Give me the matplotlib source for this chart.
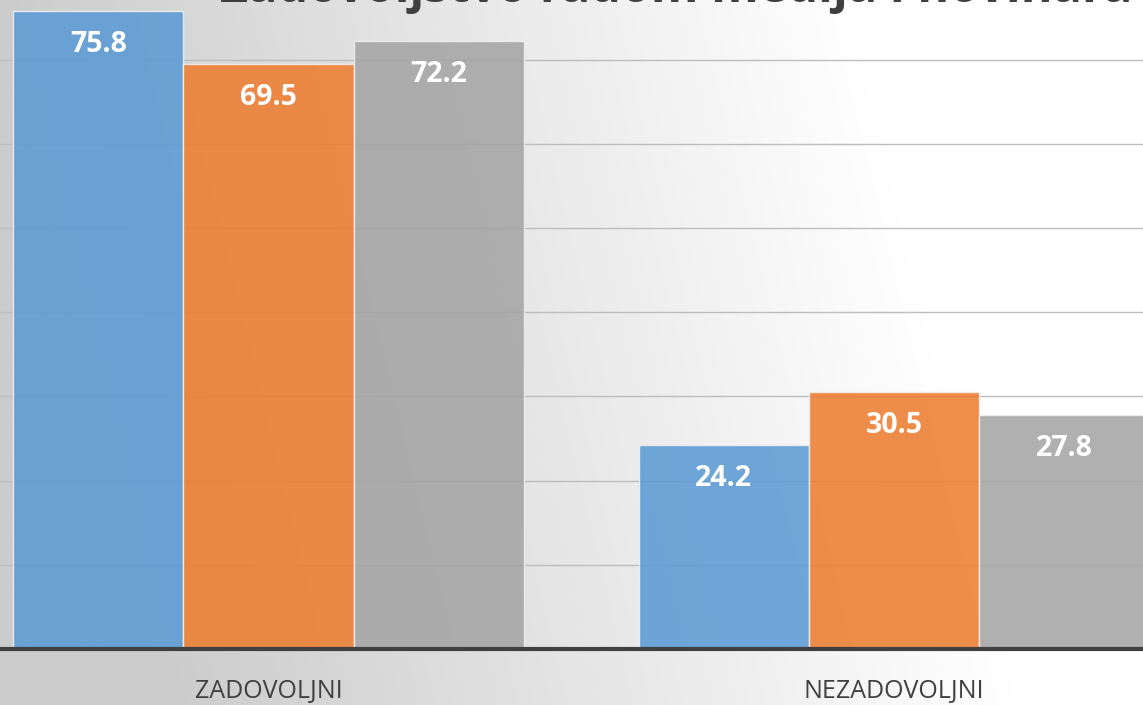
import numpy as np
import matplotlib
matplotlib.use("Agg")
import matplotlib.pyplot as plt

# Data
categories = ["ZADOVOLJNI", "NEZADOVOLJNI"]
series_a = [75.8, 24.2]
series_b = [69.5, 30.5]
series_c = [72.2, 27.8]
title = "Zadovoljstvo radom medija i novinara"

colors = ["#5b9bd5", "#ed7d31", "#a5a5a5"]

plt.rcParams["font.family"] = ["Open Sans", "DejaVu Sans"]

fig = plt.figure(figsize=(11.43, 7.05), dpi=100)

# Grey-to-white background gradient
bg = fig.add_axes([0, 0, 1, 1], zorder=0)
xx, yy = np.meshgrid(np.linspace(0, 1, 400), np.linspace(0, 1, 250))
t = np.clip(xx * 1.35 - 0.2 * yy, 0, 1)
shade = 0.80 + 0.20 * t
bg.imshow(np.dstack([shade] * 3), aspect="auto", origin="upper", extent=[0, 1, 0, 1])
bg.axis("off")

ax = fig.add_axes([0, 56 / 705, 1, 649 / 705], zorder=1)
ax.patch.set_alpha(0)

x = np.arange(len(categories))
w = 0.272
for i, vals in enumerate([series_a, series_b, series_c]):
    bars = ax.bar(x + (i - 1) * w, vals, width=w, color=colors[i], alpha=0.88,
                  edgecolor="#f0f0f0", linewidth=1.0, zorder=2)
    for b, v in zip(bars, vals):
        ax.annotate(f"{v:.1f}", (b.get_x() + b.get_width() / 2, v),
                    xytext=(0, -24), textcoords="offset points",
                    ha="center", va="center", color="white",
                    fontsize=20.5, fontweight="bold", zorder=3)

ax.set_xlim(-0.4293, 1.398)
ax.set_ylim(0, 77.08)
ax.set_yticks(np.arange(10, 80, 10))
ax.yaxis.grid(True, color="#bdbdbd", linewidth=1.0, zorder=1)
ax.set_axisbelow(True)
ax.tick_params(left=False, labelleft=False, bottom=False)
ax.set_xticks(x)
ax.set_xticklabels(categories, fontsize=18, color="#404040")
ax.tick_params(axis="x", pad=18)
for s in ["top", "left", "right"]:
    ax.spines[s].set_visible(False)
ax.spines["bottom"].set_color("#404040")
ax.spines["bottom"].set_linewidth(3)
ax.spines["bottom"].set_zorder(4)

# title sits mostly above the visible area, as in the cropped original
fig.text(0.592, 1 - 1.5 / 705, title, ha="center", va="baseline",
         fontsize=35, fontweight="bold", color="#3f3f3f")

fig.savefig("out.png", dpi=100)
